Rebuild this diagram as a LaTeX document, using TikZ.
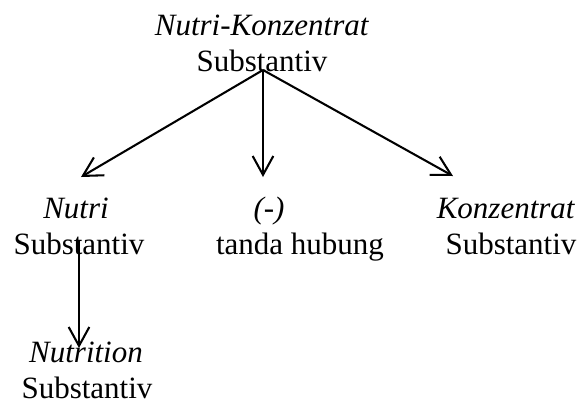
\documentclass[tikz,border=0pt]{standalone}
\usepackage{fontspec}
\setmainfont{Liberation Serif}
\usetikzlibrary{arrows.meta}

\begin{document}
\begin{tikzpicture}[x=0.387pt,y=-0.387pt,font=\fontsize{12}{14}\selectfont,
  w/.style={inner sep=0pt,anchor=base},
  ar/.style={-{Straight Barb[length=7.3pt,width=8pt]},line width=0.8pt}]
  \useasboundingbox (0,0) rectangle (582,405);
  % root
  \node[w] (root) at (262,35) {\textit{Nutri-Konzentrat}};
  \node[w] (rootcls) at (262,71) {Substantiv};
  % constituents
  \node[w] (nutri) at (76,218) {\textit{Nutri}};
  \node[w] (nutricls) at (79,254) {Substantiv};
  \node[w] (hyph) at (269,218) {\textit{(-)}};
  \node[w] (hyphcls) at (300,254) {tanda hubung};
  \node[w] (konz) at (506,218) {\textit{Konzentrat}};
  \node[w] (konzcls) at (511,254) {Substantiv};
  \node[w] (nutr) at (86,362) {\textit{Nutrition}};
  \node[w] (nutrcls) at (87,398) {Substantiv};
  % arrow ends
  \coordinate (src) at (263,70);
  \coordinate (tipL) at (81,177);
  \coordinate (tipM) at (263,177);
  \coordinate (tipR) at (453,176);
  \coordinate (srcN) at (79,240);
  \coordinate (tipN) at (79,348);
  \draw[ar] (src)--(tipL); \draw[ar] (src)--(tipM); \draw[ar] (src)--(tipR);
  \draw[ar] (srcN)--(tipN);
\end{tikzpicture}
\end{document}
